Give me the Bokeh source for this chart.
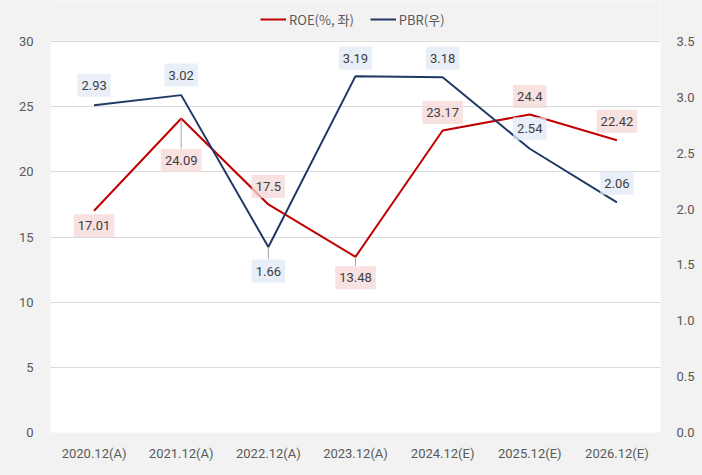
from bokeh.plotting import figure
from bokeh.models import (FactorRange, Range1d, LinearAxis, Legend, LegendItem, FixedTicker,
                          ColumnDataSource, CustomJSTickFormatter, BoxAnnotation)
from bokeh.core.properties import value
from bokeh.embed import file_html
from bokeh.resources import INLINE

categories = ["2020.12(A)", "2021.12(A)", "2022.12(A)", "2023.12(A)",
              "2024.12(E)", "2025.12(E)", "2026.12(E)"]
roe = [17.01, 24.09, 17.5, 13.48, 23.17, 24.4, 22.42]
pbr = [2.93, 3.02, 1.66, 3.19, 3.18, 2.54, 2.06]
roe_text = ["17.01", "24.09", "17.5", "13.48", "23.17", "24.4", "22.42"]
pbr_text = ["2.93", "3.02", "1.66", "3.19", "3.18", "2.54", "2.06"]
left_ticks = [0, 5, 10, 15, 20, 25, 30]
right_ticks = [0, 0.5, 1.0, 1.5, 2.0, 2.5, 3.0, 3.5]

# label placement (screen px, positive = up) and leader flags
roe_off = [-15, -42, 18, -21, 18, 18, 19]
roe_leader = [False, True, False, True, False, False, False]
pbr_off = [20, 20, -24, 18, 19, 20, 19]
pbr_leader = [False, False, True, False, False, False, False]

RED = "#c00000"
NAVY = "#203864"
GRID = "#d9d9d9"
TXT = "#595959"
BG = "#f2f2f2"

W, H = 702, 475
ML, MR, MB = 50, 42, 43
PLOT_TOP = 41            # px from top where the value 30 / 3.5 sits
FH = H - MB              # frame spans to the top of the canvas
PH = FH - PLOT_TOP       # px of the actual plotting area
L_MAX, R_MAX = left_ticks[-1], right_ticks[-1]
l_end = L_MAX * FH / PH
r_end = R_MAX * FH / PH

p = figure(x_range=FactorRange(*categories), y_range=Range1d(0, l_end),
           width=W, height=H, output_backend="svg", toolbar_location=None,
           min_border_left=ML, min_border_right=MR, min_border_top=0, min_border_bottom=MB)
p.extra_y_ranges = {"r": Range1d(0, r_end)}
p.background_fill_color = "white"
p.border_fill_color = BG
p.outline_line_color = None
p.xgrid.grid_line_color = None
p.ygrid.grid_line_color = GRID
p.ygrid.ticker = FixedTicker(ticks=left_ticks)

p.yaxis.ticker = FixedTicker(ticks=left_ticks)
for ax in [p.xaxis[0], p.yaxis[0]]:
    ax.axis_line_color = None
    ax.major_tick_line_color = None
    ax.minor_tick_line_color = None
    ax.major_label_text_color = TXT
    ax.major_label_text_font = "Roboto"
    ax.major_label_text_font_size = "13px"
p.yaxis.major_label_standoff = 11
p.xaxis.major_label_standoff = 7

ra = LinearAxis(y_range_name="r", ticker=FixedTicker(ticks=right_ticks))
ra.axis_line_color = None
ra.major_tick_line_color = None
ra.minor_tick_line_color = None
ra.major_label_text_color = TXT
ra.major_label_text_font = "Roboto"
ra.major_label_text_font_size = "13px"
ra.major_label_standoff = 10
ra.formatter = CustomJSTickFormatter(code="return tick.toFixed(1);")
p.add_layout(ra, "right")

# grey band above the plotting area (legend area)
p.add_layout(BoxAnnotation(bottom=L_MAX + 1 * L_MAX / PH, fill_color=BG, fill_alpha=1,
                           line_color=None))

src = ColumnDataSource(dict(x=categories, roe=roe, pbr=pbr,
                            roe_text=roe_text, pbr_text=pbr_text,
                            roe_off=[-o for o in roe_off], pbr_off=[-o for o in pbr_off]))
r1 = p.line("x", "roe", source=src, line_color=RED, line_width=2)
r2 = p.line("x", "pbr", source=src, line_color=NAVY, line_width=2, y_range_name="r")

# leader lines (convert px offsets to data units)
lx, ly0, ly1 = [], [], []
for c, v, off, lead in zip(categories, roe, roe_off, roe_leader):
    if lead:
        edge = off + (12 if off < 0 else -12)
        lx.append(c); ly0.append(v); ly1.append(v + edge * L_MAX / PH)
p.segment(x0=lx, y0=ly0, x1=lx, y1=ly1, line_color="#a6a6a6", line_width=1)
lx2, ly20, ly21 = [], [], []
for c, v, off, lead in zip(categories, pbr, pbr_off, pbr_leader):
    if lead:
        edge = off + (12 if off < 0 else -12)
        lx2.append(c); ly20.append(v); ly21.append(v + edge * R_MAX / PH)
p.segment(x0=lx2, y0=ly20, x1=lx2, y1=ly21, line_color="#a6a6a6", line_width=1, y_range_name="r")

common = dict(text_align="center", text_baseline="middle", text_font=value("Roboto"),
              text_font_size="13px", text_color="#404040", padding=dict(x=4, y=7),
              background_fill_alpha=0.75)
p.text(x="x", y="roe", text="roe_text", y_offset="roe_off", source=src,
       background_fill_color="#f6d7d7", **common)
p.text(x="x", y="pbr", text="pbr_text", y_offset="pbr_off", source=src,
       background_fill_color="#e2eaf6", y_range_name="r", **common)

legend = Legend(items=[LegendItem(label="ROE(%, 좌)", renderers=[r1]),
                       LegendItem(label="PBR(우)", renderers=[r2])],
                orientation="horizontal", location=(210, FH - 29),
                background_fill_alpha=0, border_line_color=None,
                label_text_font="Noto Sans CJK KR", label_text_font_size="13px",
                label_text_color=TXT, glyph_width=26, spacing=16, padding=2,
                label_standoff=3, margin=0)
p.add_layout(legend)

html = file_html(p, INLINE)
html = html.replace("</head>", "<style>body{background:%s;margin:0;}</style></head>" % BG, 1)
open("out.html", "w").write(html)
